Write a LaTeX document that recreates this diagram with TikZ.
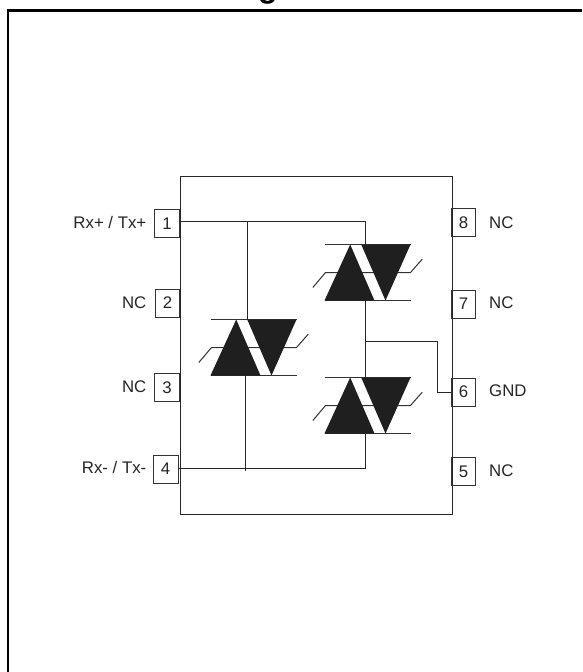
\documentclass[tikz,border=0pt]{standalone}
\usepackage{fontspec}
\setmainfont{Liberation Sans}
\tikzset{
  wire/.style={draw=black!85,line width=1pt},
  lead/.style={draw=black!80,line width=1pt},
  body/.style={draw=black!85,line width=1pt},
  pinbox/.style={draw=black!80,line width=1pt,rectangle,inner sep=0pt,font=\fontsize{16.8}{18}\selectfont,text=black!85},
  lbl/.style={inner sep=0pt,font=\fontsize{16.8}{18}\selectfont,text=black!85},
  tvs/.pic={
    \draw[lead] (-11.7,43) -- (1,28) -- (86,28) -- (97.7,14.7);
    \draw[lead] (0,0) -- (86,0);
    \draw[lead] (0,56) -- (86,56);
    \fill[black!88] (25.7,0) -- (0,56) -- (50,56) -- cycle;
    \fill[black!88] (36.7,0) -- (86,0) -- (61,56) -- cycle;
    \coordinate (-top) at (41,0);
    \coordinate (-bot) at (41,56);
  }
}
\begin{document}
\begin{tikzpicture}[x=1pt,y=-1pt]
\useasboundingbox (0,0) rectangle (582,672);
\fill[white] (0,0) rectangle (582,672);
% frame
\draw[line width=2.6pt,black] (8,672) -- (8,10.5) -- (582,10.5);
\begin{scope}
\clip (0,0) rectangle (582,672);
\node[anchor=base,inner sep=0pt,font=\bfseries\fontsize{32}{34}\selectfont] (ttl) at (268,-2.3) {g};
\end{scope}
% body
\node[body,rectangle,inner sep=0pt,anchor=north west,minimum width=272pt,minimum height=338pt] (chip) at (179.5,175.5) {};
% pins
\node[pinbox,minimum width=25pt,minimum height=28pt] (p1) at (167,223.5) {1};
\node[pinbox,minimum width=24pt,minimum height=28pt] (p2) at (167.5,303) {2};
\node[pinbox,minimum width=25pt,minimum height=28pt] (p3) at (167,387.5) {3};
\node[pinbox,minimum width=25pt,minimum height=28pt] (p4) at (165.5,469) {4};
\node[pinbox,minimum width=24pt,minimum height=28pt] (p8) at (463.5,222.5) {8};
\node[pinbox,minimum width=24pt,minimum height=28pt] (p7) at (463.5,304) {7};
\node[pinbox,minimum width=24pt,minimum height=28pt] (p6) at (463.5,392) {6};
\node[pinbox,minimum width=24pt,minimum height=28pt] (p5) at (463.5,471.5) {5};
% labels
\node[lbl,anchor=east] (l1) at (146.5,222.5) {Rx+ / Tx+};
\node[lbl,anchor=east] (l2) at (146.5,303) {NC};
\node[lbl,anchor=east] (l3) at (146.5,386.7) {NC};
\node[lbl,anchor=east] (l4) at (146.5,467.3) {Rx- / Tx-};
\node[lbl,anchor=west] (l8) at (489,222.7) {NC};
\node[lbl,anchor=west] (l7) at (489,303) {NC};
\node[lbl,anchor=west] (l6) at (489,390.7) {GND};
\node[lbl,anchor=west] (l5) at (489,470.7) {NC};
% TVS
\pic (ta) at (324.5,244.5) {tvs};
\pic (tb) at (324.5,377.5) {tvs};
\pic (tc) at (210.5,319.5) {tvs};
% wires
\coordinate (j1) at (247.5,221.5);
\coordinate (j2) at (365.5,341.5);
\coordinate (j3) at (245.5,468.5);
\draw[wire] (p1.east |- j1) -- (j1) -- (365.5,221.5) -- (ta-top);
\draw[wire] (j1) -- (247.5,319.5);
\draw[wire] (ta-bot) -- (tb-top);
\draw[wire] (j2) -- (437.5,341.5) -- (437.5,392) -- (p6.west);
\draw[wire] (tb-bot) -- (365.5,468.5) -- (j3) -- (p4.east |- j3);
\draw[wire] (245.5,375.5) -- (245.5,470.5);
\end{tikzpicture}
\end{document}
